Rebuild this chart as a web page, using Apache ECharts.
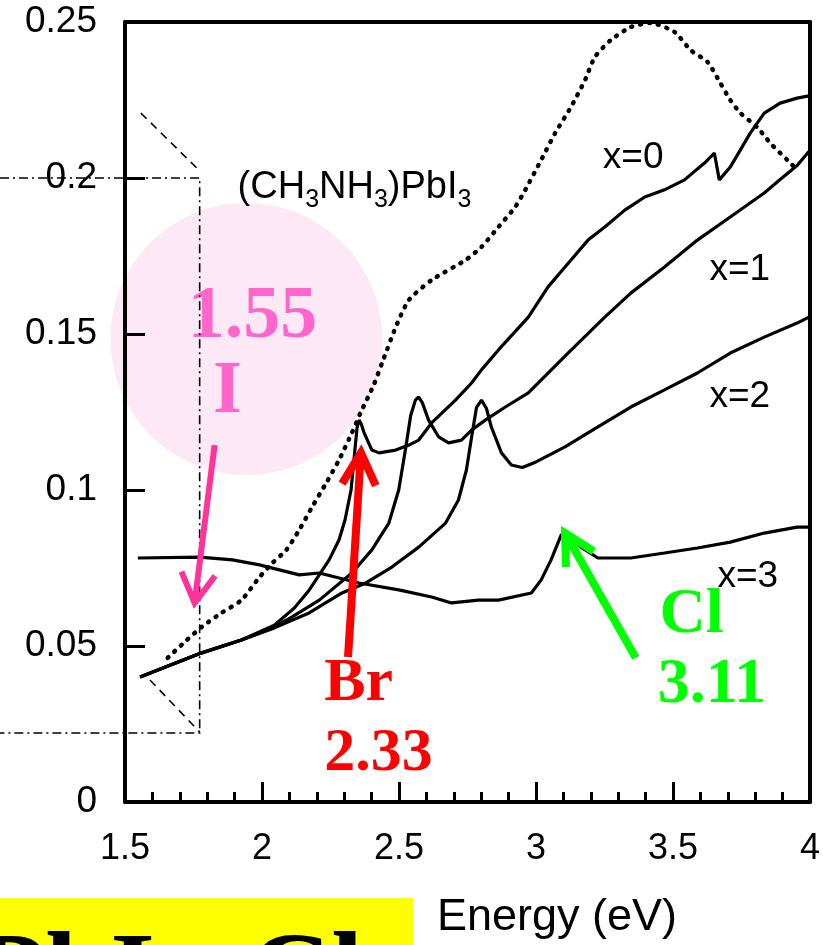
<!DOCTYPE html>
<html><head><meta charset="utf-8">
<script src="https://cdn.jsdelivr.net/npm/echarts@6/dist/echarts.min.js"></script>
<style>html,body{margin:0;padding:0;background:#fff;overflow:hidden}#c{width:823px;height:945px}</style>
</head><body><div id="c"></div>
<script>
// ---------- data ----------
const xTickValues = [1.5, 2, 2.5, 3, 3.5, 4];
const yTickValues = [0, 0.05, 0.1, 0.15, 0.2, 0.25];

const pureEnergy = [1.656,1.718,1.780,1.852,1.925,1.991,2.038,2.089,2.136,2.183,2.234,2.281,2.328,2.361,2.408,2.438,2.488,2.536,2.619,2.743,2.801,2.863,2.924,2.961,3.019,3.070,3.128,3.179,3.215,3.273,3.346,3.419,3.506,3.564,3.626,3.673,3.709,3.746,3.807,3.855,3.917,3.953];
const pureAbs    = [0.0462,0.0513,0.0561,0.0606,0.0647,0.0721,0.0766,0.0808,0.0872,0.0946,0.1022,0.1096,0.1183,0.1250,0.1337,0.1407,0.1522,0.1609,0.1673,0.1737,0.1779,0.1843,0.1907,0.1962,0.2058,0.2144,0.2228,0.2314,0.2388,0.2442,0.2484,0.2497,0.2468,0.2410,0.2372,0.2304,0.2250,0.2208,0.2163,0.2112,0.2058,0.2026];

const x0Energy = [1.555,1.780,1.925,2.045,2.118,2.172,2.209,2.245,2.281,2.303,2.325,2.339,2.347,2.354,2.362,2.372,2.401,2.427,2.488,2.536,2.572,2.619,2.706,2.765,2.801,2.863,2.972,3.044,3.106,3.190,3.251,3.324,3.397,3.469,3.542,3.615,3.651,3.669,3.709,3.782,3.833,3.891,3.953,3.996];
const x0Abs    = [0.0401,0.0478,0.0519,0.0567,0.0622,0.0679,0.0728,0.0776,0.0840,0.0904,0.1000,0.1128,0.1200,0.1224,0.1212,0.1185,0.1128,0.1119,0.1128,0.1144,0.1160,0.1215,0.1288,0.1343,0.1385,0.1449,0.1554,0.1651,0.1715,0.1801,0.1843,0.1897,0.1939,0.1962,0.1994,0.2048,0.2080,0.1994,0.2035,0.2144,0.2208,0.2240,0.2256,0.2263];

const x1Energy = [1.555,1.780,1.925,2.045,2.110,2.209,2.328,2.401,2.463,2.499,2.525,2.543,2.560,2.572,2.585,2.608,2.645,2.681,2.728,2.765,2.815,2.888,2.972,3.117,3.251,3.346,3.469,3.589,3.709,3.833,3.891,3.953,3.996];
const x1Abs    = [0.0401,0.0478,0.0519,0.0561,0.0593,0.0647,0.0734,0.0808,0.0894,0.1000,0.1138,0.1240,0.1288,0.1298,0.1280,0.1224,0.1170,0.1151,0.1160,0.1192,0.1224,0.1266,0.1311,0.1439,0.1554,0.1631,0.1715,0.1801,0.1875,0.1952,0.1995,0.2040,0.2085];

const x2Energy = [1.555,1.780,1.925,2.045,2.172,2.292,2.379,2.474,2.572,2.670,2.717,2.746,2.765,2.783,2.801,2.819,2.837,2.874,2.910,2.950,3.000,3.106,3.226,3.346,3.469,3.589,3.709,3.833,3.953,3.996];
const x2Abs    = [0.0401,0.0478,0.0519,0.0558,0.0606,0.0670,0.0702,0.0753,0.0817,0.0894,0.0968,0.1064,0.1170,0.1265,0.1288,0.1262,0.1202,0.1119,0.1080,0.1072,0.1090,0.1138,0.1202,0.1266,0.1321,0.1375,0.1439,0.1490,0.1535,0.1554];

const x3Energy = [1.547,1.773,1.892,1.991,2.136,2.209,2.354,2.499,2.619,2.692,2.790,2.863,2.983,3.019,3.055,3.092,3.117,3.164,3.226,3.346,3.469,3.589,3.709,3.833,3.953,3.996];
const x3Abs    = [0.0782,0.0785,0.0776,0.0760,0.0728,0.0734,0.0702,0.0680,0.0657,0.0638,0.0647,0.0647,0.0670,0.0712,0.0776,0.0856,0.0862,0.0817,0.0782,0.0782,0.0798,0.0814,0.0833,0.0862,0.0881,0.0881];

const seriesNames = ['(CH3NH3)PbI3', 'x=0', 'x=1', 'x=2', 'x=3'];
const curveLabels = ['x=0', 'x=1', 'x=2', 'x=3'];
const peakLabels = [['1.55', 'I'], ['Br', '2.33'], ['Cl', '3.11']];

// ---------- chart ----------
const SANS = '"Liberation Sans", Arial, Helvetica, sans-serif';
const SERIF = '"Liberation Serif", "Times New Roman", serif';
const chart = echarts.init(document.getElementById('c'), null, {renderer: 'canvas'});
const zip = (xs, ys) => xs.map((x, i) => [x, ys[i]]);

const axisLineStyle = {color: '#000', width: 4};
const option = {
  animation: false,
  backgroundColor: '#fff',
  grid: {left: 125, right: 10, top: 22, bottom: 143, containLabel: false},
  xAxis: [{
    type: 'value', min: xTickValues[0], max: xTickValues[xTickValues.length - 1], interval: 0.5,
    position: 'bottom',
    axisLine: {onZero: false, lineStyle: axisLineStyle},
    axisTick: {inside: true, length: 20, lineStyle: {color: '#000', width: 3}},
    minorTick: {show: true, splitNumber: 5, length: 10, lineStyle: {color: '#000', width: 3}},
    splitLine: {show: false},
    axisLabel: {margin: 29, fontSize: 36, color: '#000', fontFamily: SANS}
  }, {
    type: 'value', min: 1.5, max: 4, position: 'top',
    axisLine: {onZero: false, lineStyle: axisLineStyle},
    axisTick: {show: false}, axisLabel: {show: false}, splitLine: {show: false}
  }],
  yAxis: [{
    type: 'value', min: yTickValues[0], max: yTickValues[yTickValues.length - 1], interval: 0.05,
    position: 'left',
    axisLine: {onZero: false, lineStyle: axisLineStyle},
    axisTick: {inside: true, length: 20, lineStyle: {color: '#000', width: 3}},
    splitLine: {show: false},
    axisLabel: {margin: 28, fontSize: 37, color: '#000', fontFamily: SANS}
  }, {
    type: 'value', min: 0, max: 0.25, position: 'right',
    axisLine: {onZero: false, lineStyle: axisLineStyle},
    axisTick: {show: false}, axisLabel: {show: false}, splitLine: {show: false}
  }],
  series: [
    {name: seriesNames[0], type: 'line', data: zip(pureEnergy, pureAbs), showSymbol: false, smooth: 0.2,
     lineStyle: {color: '#000', width: 4.5, type: [1, 8], cap: 'round'}, z: 3},
    {name: seriesNames[1], type: 'line', data: zip(x0Energy, x0Abs), showSymbol: false, lineStyle: {color: '#000', width: 3.2}, z: 3},
    {name: seriesNames[2], type: 'line', data: zip(x1Energy, x1Abs), showSymbol: false, lineStyle: {color: '#000', width: 3.2}, z: 3},
    {name: seriesNames[3], type: 'line', data: zip(x2Energy, x2Abs), showSymbol: false, lineStyle: {color: '#000', width: 3.2}, z: 3},
    {name: seriesNames[4], type: 'line', data: zip(x3Energy, x3Abs), showSymbol: false, lineStyle: {color: '#000', width: 3.2}, z: 3}
  ]
};
chart.setOption(option);

// ---------- annotations (anchored in data coordinates) ----------
const P = p => chart.convertToPixel({gridIndex: 0}, p);
function arrowEls(tail, tip, color, w, len, angDeg) {
  const a = P(tail), b = P(tip);
  const dx = a[0] - b[0], dy = a[1] - b[1], L = Math.hypot(dx, dy), ux = dx / L, uy = dy / L;
  const r = angDeg * Math.PI / 180;
  const rot = s => [b[0] + len * (ux * Math.cos(s) - uy * Math.sin(s)), b[1] + len * (ux * Math.sin(s) + uy * Math.cos(s))];
  return [
    {type: 'line', z: 20, shape: {x1: a[0], y1: a[1], x2: b[0], y2: b[1]}, style: {stroke: color, lineWidth: w}},
    {type: 'polyline', z: 20, shape: {points: [rot(r), b, rot(-r)]}, style: {stroke: color, lineWidth: w, fill: null, lineJoin: 'miter'}}
  ];
}
function textEl(pos, text, font, fill, align, z) {
  const p = P(pos);
  return {type: 'text', z: z || 20, style: {x: p[0], y: p[1], text: text, font: font, fill: fill, textAlign: align || 'left', textVerticalAlign: 'middle'}};
}
const leftPx = 0;
const boxTL = P([1.7725, 0.2]), boxBR = P([1.7725, 0.0221]);
const d1a = P([1.558, 0.2208]), d1b = P([1.762, 0.2032]);
const d2a = P([1.591, 0.0391]), d2b = P([1.773, 0.0224]);
const cc = P([1.943, 0.1484]);
const compPos = P([1.911, 0.1968]);

const graphics = [
  {type: 'circle', z: -1, shape: {cx: cc[0], cy: cc[1], r: 136}, style: {fill: '#fde8f5'}},
  textEl([1.965, 0.1551], peakLabels[0][0], 'bold 74px ' + SERIF, '#ff66cc', 'center', 1),
  textEl([1.874, 0.1311], peakLabels[0][1], 'bold 74px ' + SERIF, '#ff66cc', 'center', 1),
  // dash-dot inset frame
  {type: 'polyline', z: 4, shape: {points: [[leftPx, boxTL[1]], [boxTL[0], boxTL[1]], [boxBR[0], boxBR[1]], [leftPx, boxBR[1]]]},
   style: {stroke: '#000', lineWidth: 1.6, fill: null, lineDash: [9, 4, 2, 4]}},
  {type: 'line', z: 4, shape: {x1: d1a[0], y1: d1a[1], x2: d1b[0], y2: d1b[1]}, style: {stroke: '#000', lineWidth: 1.6, lineDash: [8, 6]}},
  {type: 'line', z: 4, shape: {x1: d2a[0], y1: d2a[1], x2: d2b[0], y2: d2b[1]}, style: {stroke: '#000', lineWidth: 1.6, lineDash: [8, 6]}},
  ...arrowEls([1.827, 0.1144], [1.754, 0.0638], '#ff3399', 6, 34, 30),
  ...arrowEls([2.314, 0.0465], [2.361, 0.1119], '#ff0000', 8, 36, 28),
  ...arrowEls([3.364, 0.0462], [3.106, 0.0862], '#00ff00', 8, 34, 28),
  textEl([2.227, 0.0378], peakLabels[1][0], 'bold 62px ' + SERIF, '#ff0000'),
  textEl([2.227, 0.0154], peakLabels[1][1], 'bold 62px ' + SERIF, '#ff0000'),
  textEl([3.451, 0.0599], peakLabels[2][0], 'bold 64px ' + SERIF, '#00ff00'),
  textEl([3.444, 0.0375], peakLabels[2][1], 'bold 64px ' + SERIF, '#00ff00'),
  textEl([3.244, 0.2064], curveLabels[0], '37px ' + SANS, '#000'),
  textEl([3.633, 0.1705], curveLabels[1], '37px ' + SANS, '#000'),
  textEl([3.633, 0.1298], curveLabels[2], '37px ' + SANS, '#000'),
  textEl([3.662, 0.0721], curveLabels[3], '37px ' + SANS, '#000'),
  {type: 'text', z: 20, style: {x: compPos[0], y: compPos[1], textAlign: 'left', textVerticalAlign: 'middle',
    text: '{m|(CH}{s|3}{m|NH}{s|3}{m|)PbI}{s|3}',
    rich: {m: {fontSize: 38, fontFamily: SANS, fill: '#000', lineHeight: 50},
           s: {fontSize: 25, fontFamily: SANS, fill: '#000', lineHeight: 25, verticalAlign: 'bottom'}}}},
  // page-level texts outside the plot
  {type: 'text', z: 20, style: {x: 437, y: 918, text: 'Energy (eV)', font: '45px ' + SANS, fill: '#000', textAlign: 'left', textVerticalAlign: 'middle'}},
  {type: 'rect', z: 5, shape: {x: 0, y: 898, width: 413, height: 60}, style: {fill: '#ffff00'}},
  {type: 'text', z: 6, style: {x: -24, y: 916, textAlign: 'left', textVerticalAlign: 'top',
    text: '{m|PbI}{s|3-x}{m|Cl}{s|x}',
    rich: {m: {fontSize: 115, fontFamily: SERIF, fontWeight: 'bold', fill: '#000', lineHeight: 130},
           s: {fontSize: 70, fontFamily: SERIF, fontWeight: 'bold', fill: '#000', lineHeight: 70, verticalAlign: 'bottom'}}}}
];
chart.setOption({graphic: {elements: graphics}});
</script>
</body></html>
